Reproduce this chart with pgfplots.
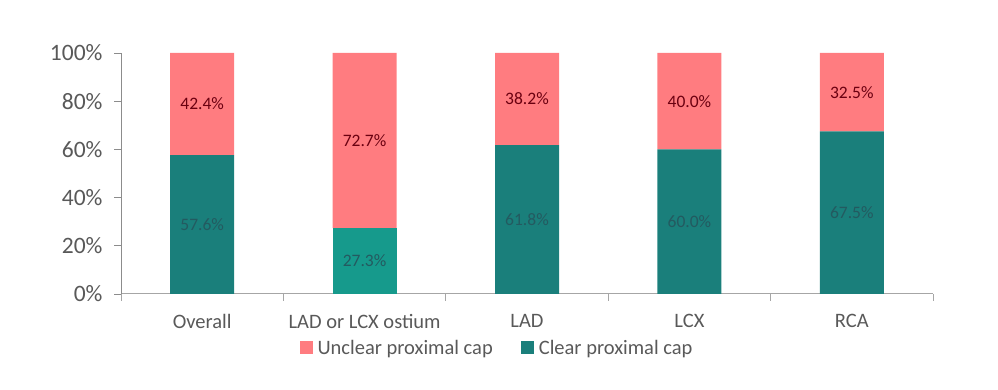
\documentclass[border=0pt]{standalone}
\usepackage{pgfplots}
\pgfplotsset{compat=1.18}
\usepackage{fontspec}
\setmainfont{Carlito}
\definecolor{cgreen}{HTML}{1A7F7B}
\definecolor{cgreenb}{HTML}{169A8C}
\definecolor{cpink}{HTML}{FF7C80}
\definecolor{glab}{HTML}{245A60}
\definecolor{plab}{HTML}{6A0010}
\definecolor{tickc}{HTML}{595959}
\begin{document}
\begin{tikzpicture}[x=1pt,y=1pt]
\path[use as bounding box] (0,0) rectangle (998,390);
\begin{axis}[
  at={(121pt,96pt)}, anchor=south west,
  scale only axis, width=812pt, height=241pt,
  ybar stacked, bar width=64pt,
  xmin=-0.5, xmax=4.5, ymin=0, ymax=100,
  xtick={0,1,2,3,4},
  xticklabels={Overall,LAD or LCX ostium,LAD,LCX,RCA},
  minor xtick={-0.5,0.5,1.5,2.5,3.5,4.5},
  ytick={0,20,40,60,80,100},
  yticklabel={\pgfmathprintnumber{\tick}\%},
  /pgf/number format/assume math mode=true,
  axis x line*=bottom, axis y line*=left,
  x axis line style={draw=black!35, line width=1pt, -},
  y axis line style={draw=black!45, line width=0.9pt, -},
  tick align=outside,
  major tick length=7pt, minor tick length=7pt,
  x tick style={draw=none},
  minor x tick style={draw=black!35, line width=1pt},
  y tick style={draw=black!45, line width=0.9pt},
  ticklabel style={text=tickc},
  yticklabel style={font=\fontsize{23.5}{26}\selectfont, xshift=-8pt},
  xticklabel style={font=\fontsize{20.5}{24}\selectfont, yshift=-10pt},
  clip=false,
  nodes near coords,
  point meta=explicit symbolic,
  every node near coord/.append style={anchor=center, font=\fontsize{17.5}{20}\selectfont},
]
\addplot[fill=cgreen, draw=none, every node near coord/.append style={text=glab}] coordinates {
 (0,57.6) [57.6\%] (1,0) [] (2,61.8) [61.8\%] (3,60.0) [60.0\%] (4,67.5) [67.5\%]};
\addplot[fill=cgreenb, draw=none, every node near coord/.append style={text=glab}] coordinates {
 (0,0) [] (1,27.3) [27.3\%] (2,0) [] (3,0) [] (4,0) []};
\addplot[fill=cpink, draw=none, every node near coord/.append style={text=plab}] coordinates {
 (0,42.4) [42.4\%] (1,72.7) [72.7\%] (2,38.2) [38.2\%] (3,40.0) [40.0\%] (4,32.5) [32.5\%]};
\end{axis}
\node[anchor=center, font=\fontsize{20.5}{24}\selectfont, text=tickc] at (496,41) {%
  \textcolor{cpink}{\rule{13pt}{13pt}}\hspace{5pt}Unclear proximal cap\hspace{28pt}%
  \textcolor{cgreen}{\rule{13pt}{13pt}}\hspace{5pt}Clear proximal cap};
\end{tikzpicture}
\end{document}
